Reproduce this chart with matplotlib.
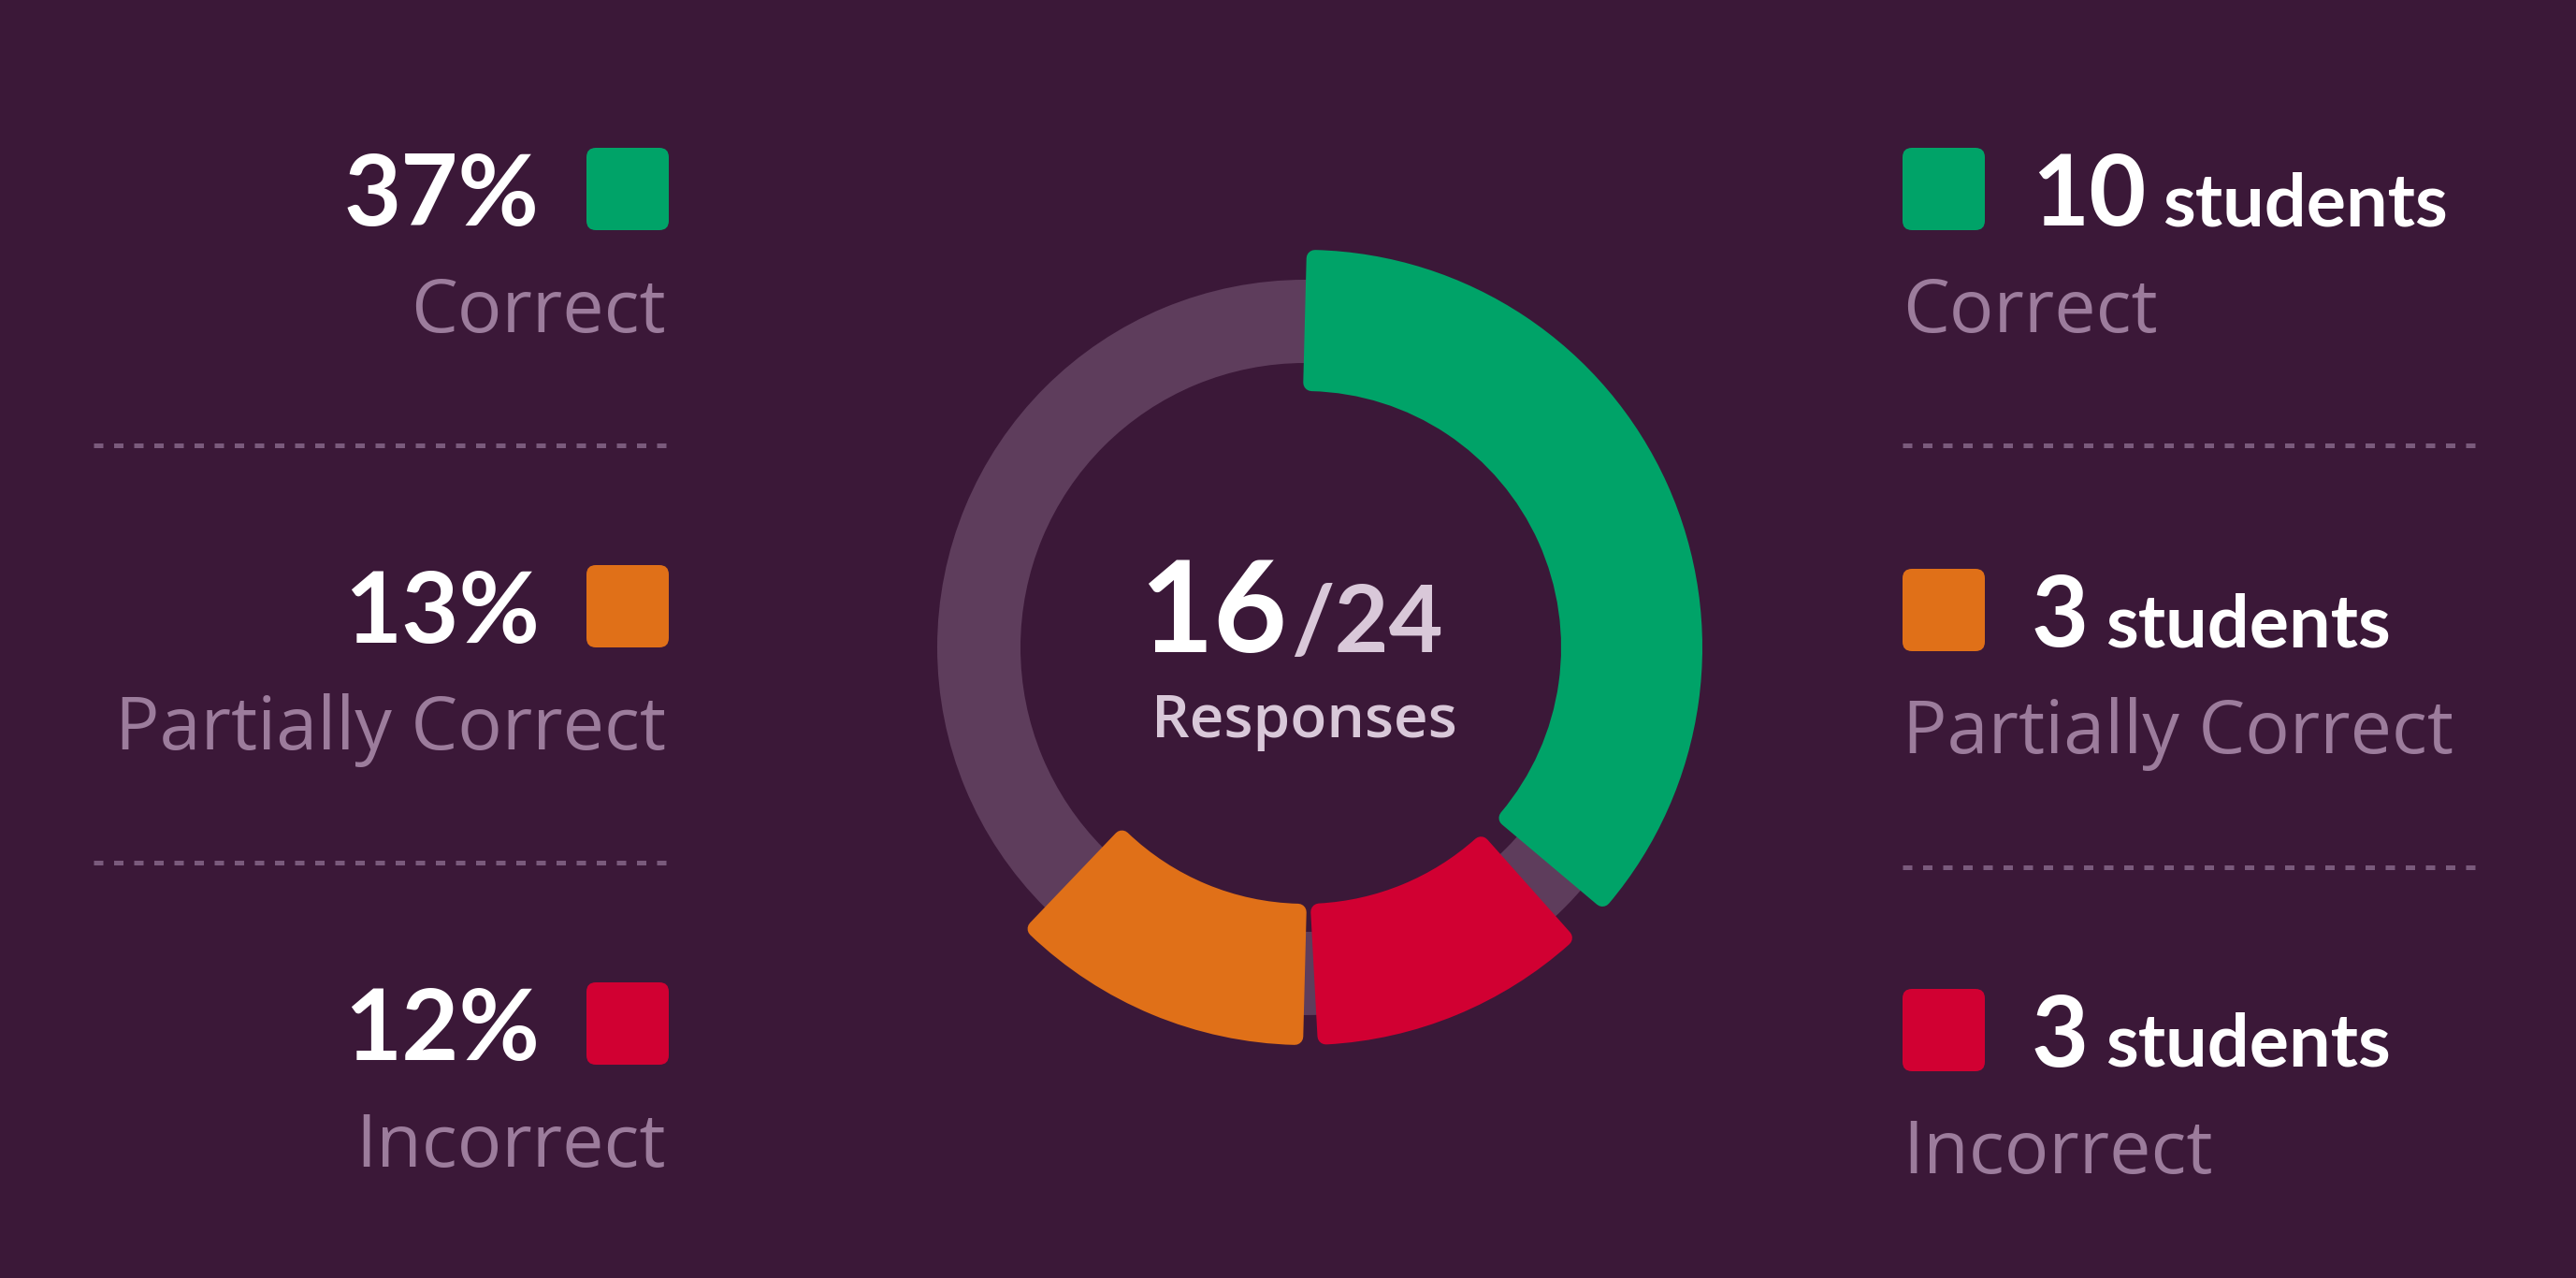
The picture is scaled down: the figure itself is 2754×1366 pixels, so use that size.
import matplotlib
matplotlib.use("Agg")
import matplotlib.pyplot as plt
from matplotlib.patches import Wedge, FancyBboxPatch

# ---------------- data ----------------
categories = ["Correct", "Partially Correct", "Incorrect"]
percents = [37, 13, 12]
students = [10, 3, 3]
answered = 16
total = 24
center_label = "Responses"
# order of the segments on the ring, clockwise from the top
ring_order = ["Correct", "Incorrect", "Partially Correct"]

# ---------------- style ----------------
BG = "#3B1838"
TRACK = "#5E3D5C"
COLORS = {"Correct": "#00A368", "Partially Correct": "#E07018", "Incorrect": "#D10032"}
LABEL = "#9C7C9C"
DOT = "#7A5A7C"
WHITE = "#FFFFFF"
SOFT = "#D9C8D9"
FONT = "Lato"
LFONT = "Open Sans"

W, H = 2754, 1366
fig = plt.figure(figsize=(W / 100, H / 100), dpi=100, facecolor=BG)
ax = fig.add_axes([0, 0, 1, 1])
ax.set_xlim(0, W)
ax.set_ylim(0, H)
ax.axis("off")
ax.set_facecolor(BG)


def Y(y):
    return H - y


PX = 72 / 100.0  # points per pixel

# ---------------- donut ----------------
cx, cy = 1395, Y(692)
ax.add_patch(Wedge((cx, cy), 393, 0, 360, width=89, facecolor=TRACK, edgecolor="none"))

seg_out, seg_in = 425, 274
rc = 9  # corner rounding (px)
gap_before = {"Incorrect": 0.01, "Partially Correct": 0.0}
end_pad = 0.0045
f = 0.0
for name in ring_order:
    val = percents[categories.index(name)] / 100.0
    f += gap_before.get(name, 0.0)
    f0, f1 = f, f + val - end_pad
    f = f + val
    rmid = (seg_out + seg_in) / 2
    trim = rc / rmid * 180 / 3.14159
    a_start = 90 - 360 * f0 - trim
    a_end = 90 - 360 * f1 + trim
    ax.add_patch(Wedge((cx, cy), seg_out - rc, a_end, a_start,
                       width=(seg_out - seg_in) - 2 * rc,
                       facecolor=COLORS[name], edgecolor=COLORS[name],
                       linewidth=2 * rc * PX, joinstyle="round"))

# center text
ax.text(1376, Y(697), f"{answered}", ha="right", va="baseline", fontsize=98,
        fontweight="bold", color=WHITE, family=FONT)
ax.text(1380, Y(697), f"/{total}", ha="left", va="baseline", fontsize=72,
        fontweight="bold", color=SOFT, family=FONT)
ax.text(1394, Y(788), center_label, ha="center", va="baseline", fontsize=46,
        fontweight=600, color=SOFT, family=LFONT)

# ---------------- legend columns ----------------
sq = 88
left_sq_x = 627
right_sq_x = 2034
left_top = [158, 604, 1050]
right_top = [158, 608, 1057]

fig.canvas.draw()
renderer = fig.canvas.get_renderer()

for i, name in enumerate(categories):
    col = COLORS[name]
    # left column
    t = left_top[i]
    ax.add_patch(FancyBboxPatch((left_sq_x, Y(t + sq)), sq, sq,
                                boxstyle="round,pad=0,rounding_size=10",
                                facecolor=col, edgecolor="none"))
    ax.text(577, Y(t + 83), f"{percents[i]}%", ha="right", va="baseline",
            fontsize=76, fontweight="bold", color=WHITE, family=FONT)
    ax.text(712, Y(t + 197), name, ha="right", va="baseline",
            fontsize=57, fontweight=500, color=LABEL, family=LFONT)

    # right column
    t = right_top[i]
    ax.add_patch(FancyBboxPatch((right_sq_x, Y(t + sq)), sq, sq,
                                boxstyle="round,pad=0,rounding_size=10",
                                facecolor=col, edgecolor="none"))
    num = ax.text(2172, Y(t + 83), f"{students[i]}", ha="left", va="baseline",
                  fontsize=76, fontweight="bold", color=WHITE, family=FONT)
    bb = num.get_window_extent(renderer=renderer)
    ax.text(bb.x1 + 18, Y(t + 83), "students", ha="left", va="baseline",
            fontsize=57, fontweight="bold", color=WHITE, family=FONT)
    ax.text(right_sq_x, Y(t + 197), name, ha="left", va="baseline",
            fontsize=57, fontweight=500, color=LABEL, family=LFONT)

# dotted separators
for yy in [476, 922]:
    ax.plot([100, 715], [Y(yy), Y(yy)], color=DOT, lw=5 * PX,
            linestyle=(0, (2.0, 2.3)), solid_capstyle="butt", dash_capstyle="butt")
for yy in [476, 927]:
    ax.plot([2034, 2649], [Y(yy), Y(yy)], color=DOT, lw=5 * PX,
            linestyle=(0, (2.0, 2.3)), solid_capstyle="butt", dash_capstyle="butt")

fig.savefig("out.png", dpi=100, facecolor=BG)
